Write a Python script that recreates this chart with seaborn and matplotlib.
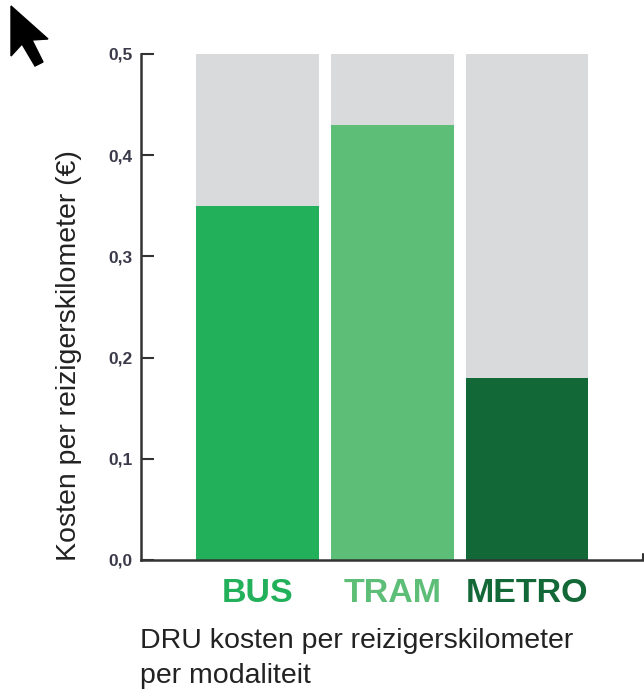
import matplotlib
matplotlib.use("Agg")
import matplotlib.pyplot as plt
import seaborn as sns
import pandas as pd
from matplotlib.patches import Polygon

categories = ["BUS", "TRAM", "METRO"]
values = [0.35, 0.43, 0.18]
scale_max = [0.5, 0.5, 0.5]
bar_colors = ["#22B05A", "#5DBE78", "#136837"]
ytick_values = [0.0, 0.1, 0.2, 0.3, 0.4, 0.5]
ytick_labels = ["0,0", "0,1", "0,2", "0,3", "0,4", "0,5"]
ylabel = "Kosten per reizigerskilometer (€)"
caption = ["DRU kosten per reizigerskilometer", "per modaliteit"]

sns.set_theme(style="white")
plt.rcParams['font.family'] = ['Liberation Sans', 'DejaVu Sans']

df = pd.DataFrame({"cat": categories, "val": values, "bg": scale_max})

fig = plt.figure(figsize=(6.44, 6.93), dpi=100)
ax = fig.add_axes([141/644, 1-560/693, (643-141)/644, (560-54)/693])

sns.barplot(data=df, x="cat", y="bg", color="#D9DADC", saturation=1, width=0.91, ax=ax)
sns.barplot(data=df, x="cat", y="val", hue="cat", palette=bar_colors, saturation=1,
            width=0.91, legend=False, ax=ax)
for p in ax.patches:
    p.set_linewidth(0)

ax.set_xlim(-0.863, 2.86)
ax.set_ylim(0, 0.5)
ax.set_yticks(ytick_values)
ax.set_yticklabels(ytick_labels, fontsize=12.5, color="#3a3a4a", fontweight="bold")
ax.tick_params(axis="y", direction="in", length=9, width=1.5, color="#333333", pad=6, left=True)
ax.tick_params(axis="x", length=0, pad=13)

ax.set_xticks(range(len(categories)))
ax.set_xticklabels(categories)
for lbl, c in zip(ax.get_xticklabels(), bar_colors):
    lbl.set_color(c)
    lbl.set_fontweight("bold")
    lbl.set_fontsize(24.5)

ax.set_xlabel("")
ax.set_ylabel(ylabel, fontsize=20.5, color="#222222")
ax.yaxis.set_label_coords(-0.118, 0.405)

for s in ["top", "right"]:
    ax.spines[s].set_visible(False)
for s in ["left", "bottom"]:
    ax.spines[s].set_linewidth(1.8)
    ax.spines[s].set_color("#333333")

# small upturn at right end of x-axis
ax.plot([1, 1], [0, 0.012], transform=ax.transAxes, color="#333333", lw=1.5, clip_on=False)

fig.text(140/644, 1-648/693, caption[0], fontsize=20.5, color="#222222", va="baseline")
fig.text(140/644, 1-683/693, caption[1], fontsize=20.5, color="#222222", va="baseline")

# cursor arrow
pts = [(11, 6), (11, 56), (22, 44), (35, 66), (43, 62), (32, 40), (48, 39)]
poly = Polygon([(x/644, 1-y/693) for x, y in pts], closed=True, transform=fig.transFigure,
               facecolor="black", edgecolor="black")
fig.patches.append(poly)

fig.savefig("out.png", dpi=100)
